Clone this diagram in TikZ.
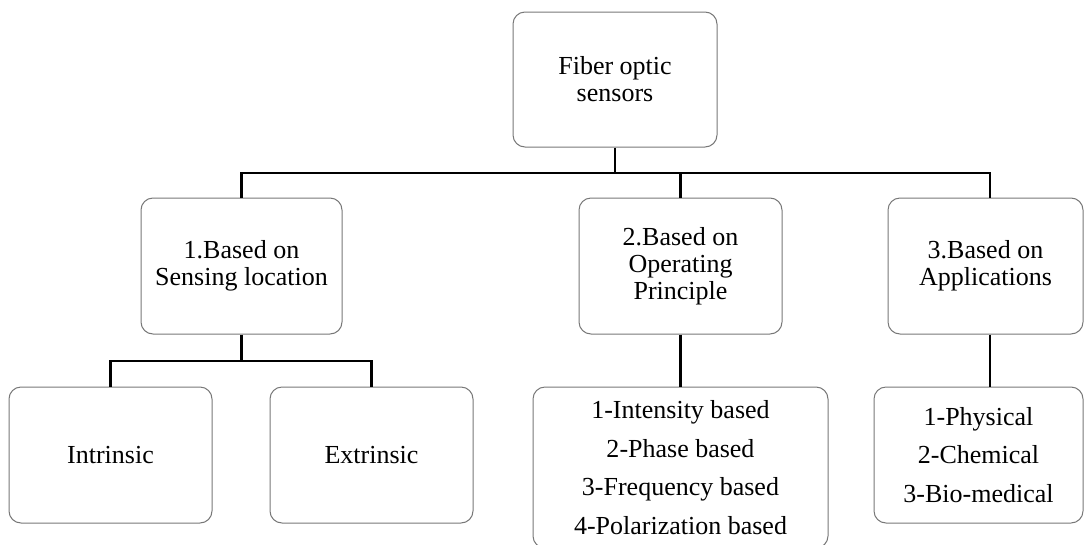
\documentclass[tikz,border=0pt]{standalone}
\usepackage{fontspec}
\setmainfont{Liberation Serif}
\definecolor{boxgray}{RGB}{120,120,120}
\begin{document}
\begin{tikzpicture}[x=1pt,y=-1pt,
  box/.style={draw=boxgray, line width=1pt, rounded corners=12pt, fill=white,
    align=center, inner sep=0pt, font=\fontsize{26}{27}\selectfont},
  listbox/.style={box, font=\fontsize{26}{38.5}\selectfont},
  conn/.style={line width=2.6pt, draw=black}]
\useasboundingbox (0,0) rectangle (1084,544);
\node[box, minimum width=204pt, minimum height=135pt] (root) at (615,79.5) {Fiber optic\\sensors};
\node[box, minimum width=201pt, minimum height=136pt] (b1) at (241.5,266) {1.Based on\\Sensing location};
\node[box, minimum width=203pt, minimum height=136pt] (b2) at (680.5,266) {2.Based on\\Operating\\Principle};
\node[box, minimum width=195pt, minimum height=136pt] (b3) at (985.5,266) {3.Based on\\Applications};
\node[box, minimum width=203pt, minimum height=136pt] (intr) at (110.5,455) {Intrinsic};
\node[box, minimum width=203pt, minimum height=136pt] (extr) at (371.5,455) {Extrinsic};
\node[listbox, minimum width=295pt, minimum height=161pt] (b4) at (680.5,467.5) {1-Intensity based\\2-Phase based\\3-Frequency based\\4-Polarization based};
\node[listbox, minimum width=209pt, minimum height=136pt] (b5) at (978.5,455) {1-Physical\\2-Chemical\\3-Bio-medical};
\coordinate (j3) at (990,173);
\coordinate (j1) at (241.5,361);
\draw[conn] (root.south) -- (root.south |- j3);
\draw[conn] (b1.north) |- (j3) -- (j3 |- b3.north);
\draw[conn] (b2.north) -- (b2.north |- j3);
\draw[conn] (b1.south) -- (j1);
\draw[conn] (intr.north) |- (j1) -| (extr.north);
\draw[conn] (b2.south) -- (b4.north);
\draw[conn] (j3 |- b3.south) -- (j3 |- b5.north);
\end{tikzpicture}
\end{document}
